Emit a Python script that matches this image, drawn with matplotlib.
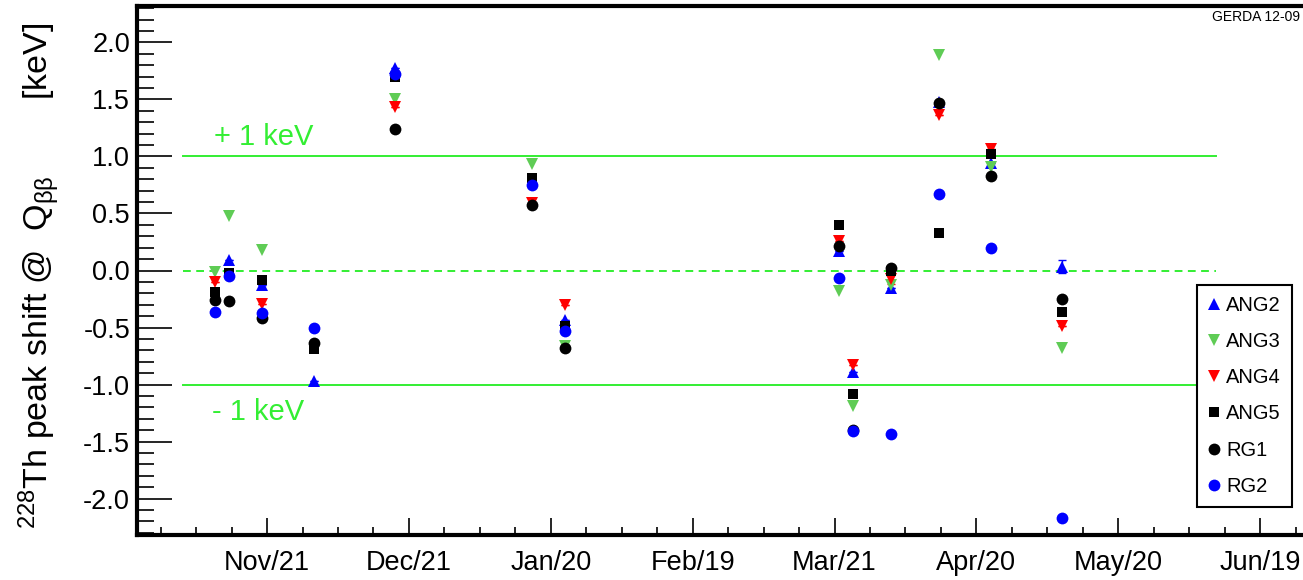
import datetime as dt

import numpy as np
import matplotlib
matplotlib.use('Agg')
from matplotlib import pyplot as plt
import matplotlib.dates as mdates
from matplotlib.lines import Line2D
from matplotlib.ticker import FixedLocator, MultipleLocator

nan = np.nan

# calibration dates (one cluster of points per calibration run)
dates = ['2010-11-10', '2010-11-13', '2010-11-20', '2010-12-01', '2010-12-18',
         '2011-01-16', '2011-01-23', '2011-03-22', '2011-03-25', '2011-04-02',
         '2011-04-12', '2011-04-23', '2011-05-08']

# peak shift at Qbb [keV], nan = hidden behind other markers
ang2 = [nan, 0.09, -0.125, -0.965, 1.78, nan, -0.43, 0.17, -0.89, -0.155, 1.48, 0.94, 0.035]
ang3 = [-0.01, 0.48, 0.18, nan, 1.50, 0.93, -0.66, -0.18, -1.19, -0.125, 1.89, 0.91, -0.68]
ang4 = [-0.10, nan, -0.29, nan, 1.43, 0.59, -0.30, 0.255, -0.83, -0.075, 1.365, 1.07, -0.485]
ang5 = [-0.19, -0.02, -0.08, -0.69, 1.70, 0.81, -0.49, 0.40, -1.08, 0.00, 0.33, 1.02, -0.36]
rg1 = [-0.26, -0.27, -0.42, -0.64, 1.24, 0.575, -0.68, 0.215, -1.40, 0.02, 1.47, 0.83, -0.25]
rg2 = [-0.36, -0.05, -0.37, -0.50, 1.72, 0.75, -0.535, -0.067, -1.41, -1.43, 0.67, 0.20, -2.17]

# small error bars (only a few stick out of the markers)
ang2_err = [0, 0, 0, 0, 0, 0, 0, 0, 0, 0, 0, 0, 0.06]
ang4_err = [0, 0, 0, 0, 0, 0, 0, 0, 0, 0.045, 0, 0, 0]

series = [
    ('ANG2', ang2, ang2_err, '^', '#0000ff'),
    ('ANG3', ang3, None, 'v', '#5fcc55'),
    ('ANG4', ang4, ang4_err, 'v', '#ff0000'),
    ('ANG5', ang5, None, 's', '#000000'),
    ('RG1', rg1, None, 'o', '#000000'),
    ('RG2', rg2, None, 'o', '#0000ff'),
]

green = '#33ee33'

plt.rcParams['font.family'] = ['Liberation Sans', 'DejaVu Sans']
plt.rcParams['mathtext.fontset'] = 'custom'
plt.rcParams['mathtext.rm'] = 'Liberation Sans'
plt.rcParams['mathtext.it'] = 'Liberation Sans:italic'

W, H = 1303, 580
fig = plt.figure(figsize=(W / 100, H / 100), dpi=100)
ax = fig.add_axes([137 / W, 1 - 535 / H, (1306 - 137) / W, (535 - 6) / H])

x = mdates.date2num([dt.datetime.strptime(d, '%Y-%m-%d') for d in dates])
start = mdates.date2num(dt.datetime(2010, 11, 21))

for name, vals, err, mk, col in series:
    ms = 7.5 if mk == 's' else 8.5
    ax.plot(x, vals, linestyle='none', marker=mk, color=col, markersize=ms,
            markeredgewidth=0, zorder=3)
    if err is not None:
        ax.errorbar(x, vals, yerr=err, fmt='none', ecolor=col, elinewidth=1,
                    capsize=3, capthick=1, zorder=2)

ax.axhline(1.0, xmin=0.0396, xmax=0.9226, color=green, lw=1.4, zorder=1)
ax.axhline(-1.0, xmin=0.0396, xmax=0.9226, color=green, lw=1.4, zorder=1)
ax.axhline(0.0, xmin=0.0396, xmax=0.9226, color=green, lw=1.4,
           linestyle=(0, (4, 2.8)), zorder=1)

ax.text(0.066, 0.752, '+ 1 keV', transform=ax.transAxes, color=green,
        fontsize=21, va='center', ha='left')
ax.text(0.064, 0.232, '- 1 keV', transform=ax.transAxes, color=green,
        fontsize=21, va='center', ha='left')

ax.set_xlim(start - 27.5, start + 219.7)
ax.set_ylim(-2.32, 2.32)

ax.xaxis.set_major_locator(FixedLocator(start + np.arange(0, 211, 30)))
ax.xaxis.set_minor_locator(FixedLocator(start + np.arange(-22.5, 218, 7.5)))
ax.xaxis.set_major_formatter(mdates.DateFormatter('%b/%d'))
ax.yaxis.set_major_locator(MultipleLocator(0.5))
ax.yaxis.set_minor_locator(MultipleLocator(0.1))
ax.yaxis.set_major_formatter(plt.FuncFormatter(lambda v, p: f'{v:.1f}'))

ax.tick_params(axis='both', which='both', direction='in', top=False, right=False,
               labelsize=19.5)
ax.tick_params(axis='y', which='major', length=25, width=1.2, pad=5)
ax.tick_params(axis='y', which='minor', length=12.5, width=1.2)
ax.tick_params(axis='x', which='major', length=12, width=1.2, pad=11)
ax.tick_params(axis='x', which='minor', length=6, width=1.2)

for side in ['left', 'bottom', 'top']:
    ax.spines[side].set_linewidth(3)
ax.spines['right'].set_visible(False)

fig.text(40 / W, 1 - 276 / H,
         r'$^{228}$Th peak shift @  Q$_{\mathrm{\beta\beta}}$        [keV]',
         rotation=90, ha='center', va='center', fontsize=24.5)

fig.text(1300 / W, 1 - 17 / H, 'GERDA 12-09', fontsize=10, ha='right', va='center')

handles = [Line2D([], [], linestyle='none', marker=mk, color=col,
                  markersize=7.5 if mk == 's' else 8.5, markeredgewidth=0)
           for name, vals, err, mk, col in series]
labels = [s[0] for s in series]
leg = ax.legend(handles, labels, loc='upper left',
                bbox_to_anchor=(1197 / W, 1 - 285 / H), bbox_transform=fig.transFigure,
                frameon=True, fancybox=False, edgecolor='black', framealpha=1,
                fontsize=14.5, handlelength=0.6, handletextpad=0.3,
                labelspacing=0.85, borderpad=0.55, borderaxespad=0)
leg.get_frame().set_linewidth(1.5)

fig.savefig('out.png', dpi=100)
